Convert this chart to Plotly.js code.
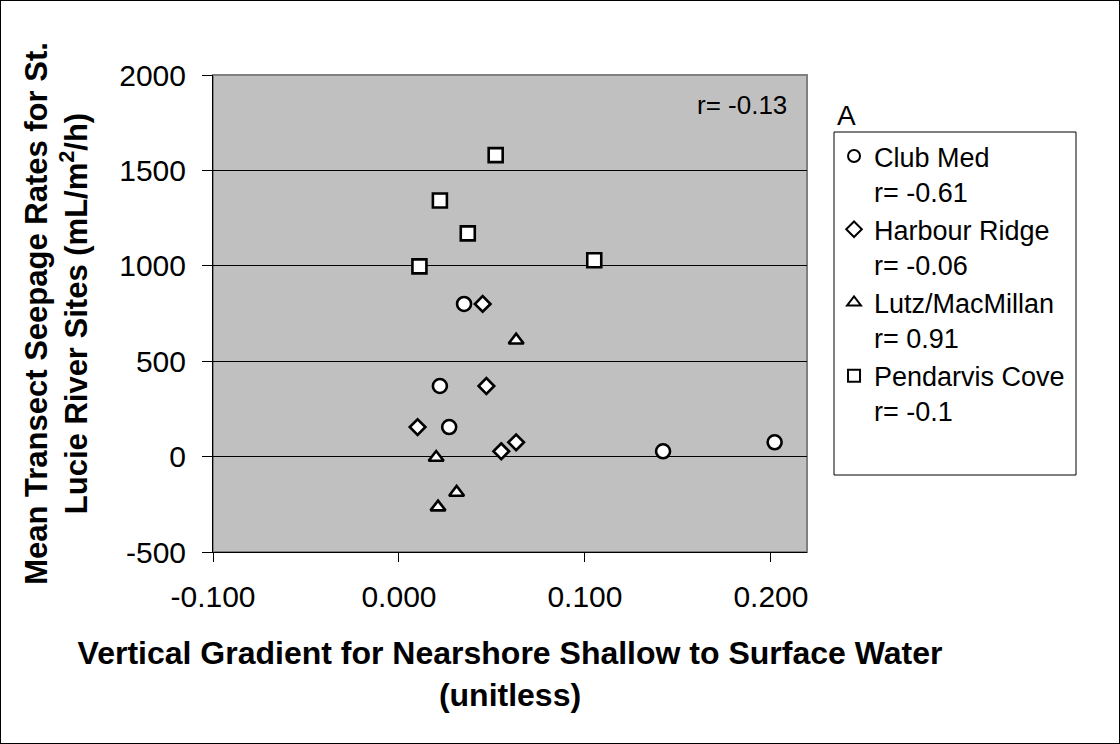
<!DOCTYPE html>
<html>
<head>
<meta charset="utf-8">
<script src="https://cdn.plot.ly/plotly-3.0.1.min.js"></script>
<style>
  html, body { margin: 0; padding: 0; background: #ffffff; }
  #chart { width: 1118px; height: 742px; border: 1px solid #000000; }
</style>
</head>
<body>
<div id="chart"></div>
<script>
// ---- data ----
const clubMedX = [0.035, 0.022, 0.027, 0.142, 0.202];
const clubMedY = [800, 370, 155, 28, 75];
const harbourX = [0.045, 0.047, 0.010, 0.055, 0.063];
const harbourY = [800, 370, 155, 28, 75];
const lutzX = [0.063, 0.020, 0.031, 0.021];
const lutzY = [610, -5, -188, -265];
const pendarvisX = [0.052, 0.022, 0.037, 0.011, 0.105];
const pendarvisY = [1580, 1342, 1170, 997, 1029];

const seriesNames = ["Club Med<br>r= -0.61", "Harbour Ridge<br>r= -0.06", "Lutz/MacMillan<br>r= 0.91", "Pendarvis Cove<br>r= -0.1"];
const xTickVals = [-0.1, 0, 0.1, 0.2];
const xTickText = ["-0.100", "0.000", "0.100", "0.200"];
const yTickVals = [-500, 0, 500, 1000, 1500, 2000];
const yTickText = ["-500", "0", "500", "1000", "1500", "2000"];
const overallR = "r= -0.13";
const panelLabel = "A";

const FONT = "Liberation Sans, Arial, Helvetica, sans-serif";

function mk(symbol, size) {
  return { symbol: symbol, size: size, color: "#ffffff", line: { color: "#000000", width: 2.6 } };
}

const traces = [
  { x: clubMedX, y: clubMedY, name: seriesNames[0], mode: "markers", type: "scatter", marker: mk("circle", 14) },
  { x: harbourX, y: harbourY, name: seriesNames[1], mode: "markers", type: "scatter", marker: mk("diamond", 12) },
  { x: lutzX, y: lutzY, name: seriesNames[2], mode: "markers", type: "scatter", marker: mk("triangle-up", 13) },
  { x: pendarvisX, y: pendarvisY, name: seriesNames[3], mode: "markers", type: "scatter", marker: mk("square", 14) }
];

const layout = {
  width: 1118,
  height: 742,
  margin: { l: 212, r: 312, t: 74, b: 191, pad: 0 },
  paper_bgcolor: "#ffffff",
  plot_bgcolor: "#c0c0c0",
  font: { family: FONT, color: "#000000", size: 29 },
  showlegend: true,
  xaxis: {
    range: [-0.1, 0.2194],
    tickmode: "array",
    tickvals: xTickVals,
    ticktext: xTickText,
    ticks: "outside",
    ticklen: 9,
    tickwidth: 1,
    tickcolor: "#000000",
    ticklabelstandoff: 9,
    showgrid: false,
    zeroline: false,
    showline: true,
    linecolor: "#000000",
    linewidth: 1,
    tickfont: { family: FONT, size: 30, color: "#000000" },
    title: {
      text: "<b>Vertical Gradient for Nearshore Shallow to Surface Water<br>(unitless)</b>",
      font: { family: FONT, size: 32, color: "#000000" },
      standoff: 29
    },
    automargin: false,
    fixedrange: true
  },
  yaxis: {
    range: [-500, 2000],
    tickmode: "array",
    tickvals: yTickVals,
    ticktext: yTickText,
    ticks: "outside",
    ticklen: 10,
    tickwidth: 1,
    tickcolor: "#000000",
    ticklabelstandoff: 10,
    showgrid: true,
    gridcolor: "#000000",
    gridwidth: 1,
    zeroline: false,
    showline: true,
    linecolor: "#000000",
    linewidth: 1,
    tickfont: { family: FONT, size: 30, color: "#000000" },
    title: {
      text: "<b>Mean Transect Seepage Rates for St.<br>Lucie River Sites (mL/m<sup>2</sup>/h)</b>",
      font: { family: FONT, size: 31, color: "#000000" },
      standoff: 22
    },
    automargin: false,
    fixedrange: true
  },
  legend: {
    x: 1.0455,
    y: 0.8805,
    xanchor: "left",
    yanchor: "top",
    bgcolor: "rgba(0,0,0,0)",
    borderwidth: 0,
    font: { family: FONT, size: 27, color: "#000000" },
    valign: "top",
    itemsizing: "constant",
    tracegroupgap: 0
  },
  shapes: [
    { type: "rect", xref: "paper", yref: "paper", x0: 0, x1: 1, y0: 0, y1: 1,
      line: { color: "#808080", width: 2 }, fillcolor: "rgba(0,0,0,0)", layer: "below" },
    // legend frame (the legend box is taller than its entries in the reference)
    { type: "rect", xref: "paper", yref: "paper",
      x0: (834 - 213) / 594, x1: (1076 - 213) / 594,
      y0: (552 - 475) / 477, y1: (552 - 132) / 477,
      line: { color: "#000000", width: 1 }, fillcolor: "#ffffff", layer: "below" }
  ],
  annotations: [
    { text: overallR, xref: "paper", yref: "paper", x: 0.8906, y: 0.937,
      xanchor: "center", yanchor: "middle", showarrow: false,
      font: { family: FONT, size: 26, color: "#000000" } },
    { text: panelLabel, xref: "paper", yref: "paper", x: 1.067, y: 0.916,
      xanchor: "center", yanchor: "middle", showarrow: false,
      font: { family: FONT, size: 28, color: "#000000" } }
  ]
};

Plotly.newPlot("chart", traces, layout, { displayModeBar: false, staticPlot: true });
</script>
</body>
</html>
